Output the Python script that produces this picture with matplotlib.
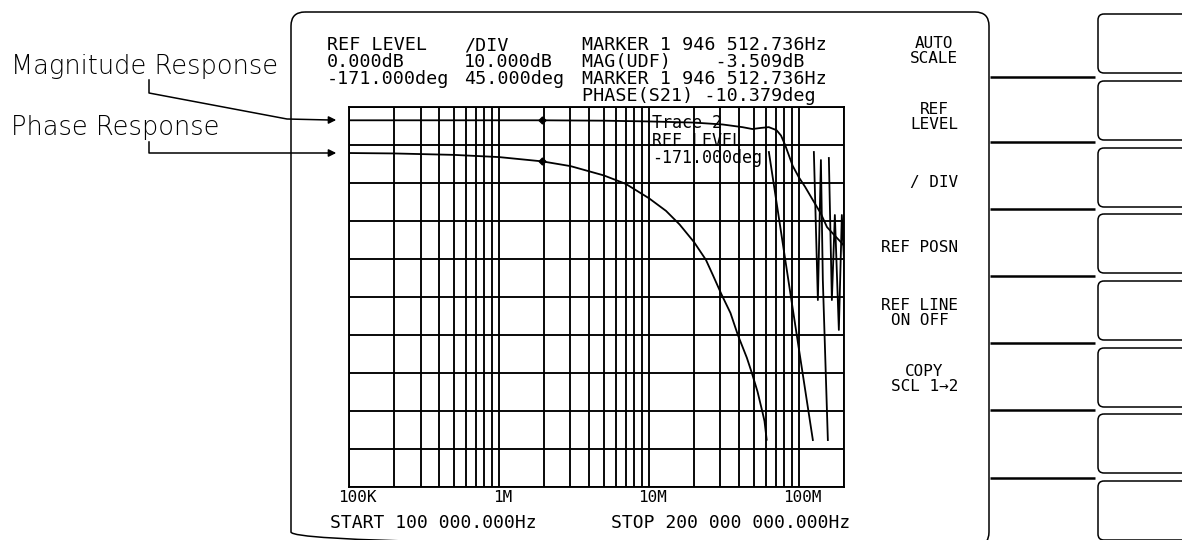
import numpy as np
import matplotlib
matplotlib.use("Agg")
import matplotlib.pyplot as plt
from matplotlib.patches import FancyBboxPatch
from matplotlib.transforms import blended_transform_factory

# ---------------- data ----------------
mag_freq = [1e5, 2e5, 5e5, 1e6, 1.946e6, 5e6, 1e7, 2e7, 3.1e7, 4.2e7, 4.9e7,
            5.6e7, 6.3e7, 7.1e7, 7.6e7, 8.1e7, 9.1e7, 1.0e8, 1.1e8, 1.24e8,
            1.4e8, 1.54e8, 1.75e8, 1.88e8, 2e8]
mag_db = [-3.5, -3.5, -3.5, -3.5, -3.5, -3.6, -3.8, -4.1, -4.6, -5.3, -5.8,
          -5.5, -5.3, -6.1, -7.5, -10.0, -15.5, -18.5, -21.0, -24.5,
          -28.0, -31.6, -34.0, -35.3, -36.5]

phase_freq = [1e5, 2e5, 5e5, 1e6, 1.946e6, 3e6, 5e6, 7e6, 1e7, 1.3e7, 1.6e7,
              2e7, 2.4e7, 2.67e7, 3.05e7, 3.5e7, 3.92e7, 4.5e7, 4.86e7,
              5.3e7, 5.73e7, 5.9e7, 6.1e7,
              np.nan,
              6.31e7, 8.71e7, 1.24e8,
              np.nan,
              1.259e8, 1.339e8, 1.403e8, 1.445e8, 1.561e8,
              np.nan,
              1.585e8, 1.66e8, 1.738e8, 1.848e8, 1.935e8, 2e8]
phase_deg = [-0.5, -1.0, -2.7, -5.3, -10.4, -16, -27, -37, -54, -69, -85,
             -106, -127, -145, -168, -190, -216, -243, -261,
             -283, -308, -318, -340,
             np.nan,
             0.7, -162.7, -340.4,
             np.nan,
             0.7, -174.6, -8.8, -150.9, -340.4,
             np.nan,
             -6.4, -174.6, -73.9, -210.0, -73.9, -127.0]

marker_freq = 1.946512736e6
marker_mag = -3.509
marker_phase = -10.379

xtick_vals = [1e5, 1e6, 1e7, 1e8]
xtick_labels = ["100K", "1M", "10M", "100M"]

header_rows = [
    ("REF LEVEL", "/DIV", "MARKER 1 946 512.736Hz"),
    ("0.000dB", "10.000dB", "MAG(UDF)    -3.509dB"),
    ("-171.000deg", "45.000deg", "MARKER 1 946 512.736Hz"),
    ("", "", "PHASE(S21) -10.379deg"),
]
softkeys = ["AUTO\nSCALE", "REF\nLEVEL", "/ DIV", "REF POSN",
            "REF LINE\nON OFF", "COPY\nSCL 1\u21922"]
trace2_lines = ["Trace 2", "REF LEVEL", "-171.000deg"]

# ---------------- figure ----------------
W, H = 1182, 540
fig = plt.figure(figsize=(W / 100, H / 100), dpi=100)
fig.patch.set_facecolor("white")

ov = fig.add_axes([0, 0, 1, 1])
ov.set_xlim(0, W)
ov.set_ylim(H, 0)
ov.axis("off")

mono = "DejaVu Sans Mono"


def pitch(fs):
    return 0.602 * fs * 100 / 72


# frame around display
ov.add_patch(FancyBboxPatch((291, 12), 989 - 291, 546 - 12,
                            boxstyle="round,pad=0,rounding_size=14",
                            fill=False, ec="black", lw=1.1))

# softkey boxes
box_tops = [14, 81, 148, 214, 281, 348, 414, 481]
for bt in box_tops:
    ov.add_patch(FancyBboxPatch((1098, bt), 120, 59,
                                boxstyle="round,pad=0,rounding_size=6",
                                fill=False, ec="black", lw=1.1))
for dy in [77, 142, 209, 276, 343, 410, 478]:
    ov.plot([990, 1095], [dy, dy], color="black", lw=1.8,
            solid_capstyle="butt")

# softkey labels
sk_fs = 11.5
sk_y = [51, 117, 183, 248, 313, 379]
for lab, yy in zip(softkeys, sk_y):
    lines = lab.split("\n")
    wmax = max(len(s) for s in lines) * pitch(sk_fs)
    cx = 958 - wmax / 2
    n = len(lines)
    for i, s in enumerate(lines):
        ly = yy + (i - (n - 1) / 2) * 15
        ov.text(cx, ly, s, ha="center", va="center", fontsize=sk_fs,
                family=mono)

# header text
hd_fs = 13.2
row_y = [45, 62, 79, 96]
col_x = [327, 464, 582]
for ry, row in zip(row_y, header_rows):
    for cx, t in zip(col_x, row):
        if t:
            ov.text(cx, ry, t, ha="left", va="center", fontsize=hd_fs,
                    family=mono)

# left annotations
ov.text(11, 74, "Magnitude Response", ha="left", va="baseline",
        fontsize=18.5, family="DejaVu Sans", fontweight="light")
ov.text(11, 135, "Phase Response", ha="left", va="baseline",
        fontsize=18.5, family="DejaVu Sans", fontweight="light")
ov.plot([149, 149, 287, 330], [80, 93, 119, 120], color="black", lw=1.1)
ov.plot([149, 149, 330], [142, 153, 153], color="black", lw=1.1)
for yy in (120, 153):
    ov.annotate("", xy=(339, yy), xytext=(327, yy),
                arrowprops=dict(arrowstyle="-|>", color="black", lw=1.1,
                                mutation_scale=11))

# ---------------- plot area ----------------
L, R, T, B = 349, 844, 107, 487
ax = fig.add_axes([L / W, 1 - B / H, (R - L) / W, (B - T) / H])
ax.set_xscale("log")
ax.set_xlim(1e5, 2e8)
ax.set_ylim(-100, 0)
ax.set_yticks(np.arange(-100, 1, 10))
ax.xaxis.set_major_locator(matplotlib.ticker.LogLocator(base=10, numticks=20))
ax.xaxis.set_minor_locator(matplotlib.ticker.LogLocator(
    base=10, subs=np.arange(2, 10), numticks=20))
ax.grid(True, which="both", color="black", lw=1.35)
ax.tick_params(which="both", length=0, labelbottom=False, labelleft=False)
for sp in ax.spines.values():
    sp.set_linewidth(1.35)
ax.set_facecolor("none")

ax.plot(mag_freq, mag_db, color="black", lw=1.3)
ax.plot([marker_freq], [marker_mag], marker="D", ms=3.5, color="black")

ax2 = ax.twinx()
ax2.set_ylim(-171 - 5 * 45, -171 + 5 * 45)
ax2.set_yticks([])
ax2.plot(phase_freq, phase_deg, color="black", lw=1.3)
ax2.plot([marker_freq], [marker_phase], marker="D", ms=3.5, color="black")
for sp in ax2.spines.values():
    sp.set_visible(False)

# trace 2 annotation inside grid
for s, yy in zip(trace2_lines, [123, 141, 158]):
    ov.text(652, yy, s, ha="left", va="center", fontsize=12, family=mono)

# x labels
trans = blended_transform_factory(ax.transData, ov.transData)
for v, lab in zip(xtick_vals, xtick_labels):
    if v == xtick_vals[0]:
        ov.text(338, 498, lab, ha="left", va="center", fontsize=11.5,
                family=mono)
    else:
        ax.text(v * 1.06, 498, lab, transform=trans, ha="center",
                va="center", fontsize=11.5, family=mono)
ov.text(330, 523, "START 100 000.000Hz", ha="left", va="center",
        fontsize=13, family=mono)
ov.text(611, 523, "STOP 200 000 000.000Hz", ha="left", va="center",
        fontsize=13, family=mono)

fig.savefig("out.png", dpi=100, facecolor="white")
